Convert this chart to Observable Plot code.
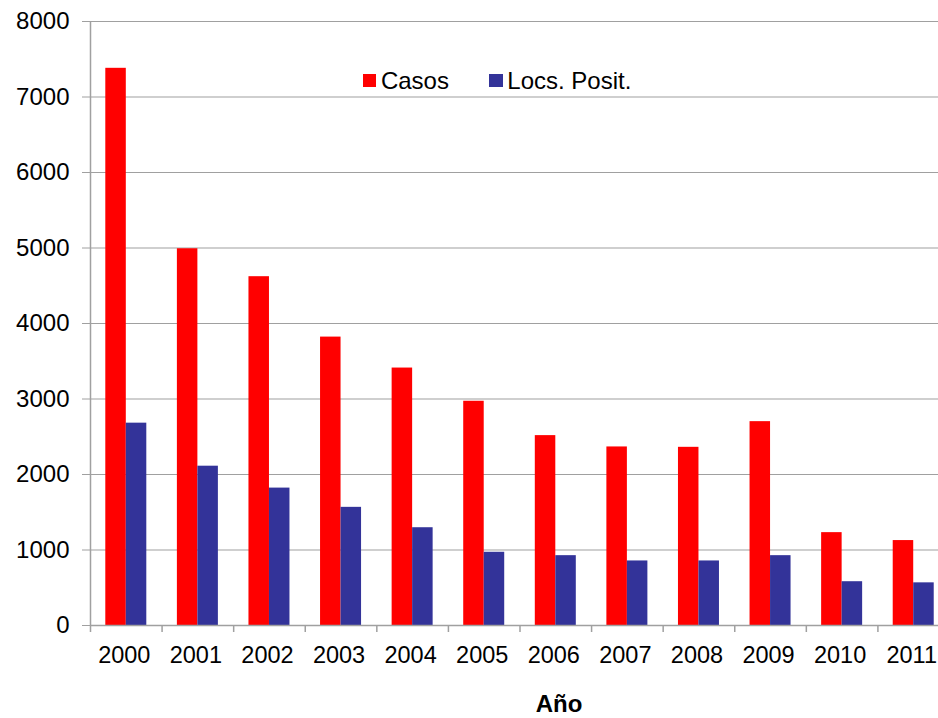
<!DOCTYPE html>
<html>
<head>
<meta charset="utf-8">
<script src="https://cdn.jsdelivr.net/npm/d3@7"></script>
<script src="https://cdn.jsdelivr.net/npm/@observablehq/plot@0.6"></script>
<style>
  html, body { margin: 0; padding: 0; background: white; }
  #wrap { position: relative; width: 938px; height: 718px; overflow: hidden; font-family: 'Liberation Sans', Arial, sans-serif; }
  #legend { position: absolute; left: 363px; top: 68.8px; display: flex; align-items: center; font-size: 24px; line-height: 24px; color: #000; }
  #legend .item { display: flex; align-items: center; }
  #legend .sw { width: 13.4px; height: 13.4px; margin-right: 4.5px; }
</style>
</head>
<body>
<div id="wrap"><div id="legend"></div></div>
<script>
const years = ["2000","2001","2002","2003","2004","2005","2006","2007","2008","2009","2010","2011"];
const casos = [7380, 4990, 4620, 3820, 3410, 2970, 2515, 2365, 2360, 2700, 1230, 1125];
const locs  = [2680, 2110, 1820, 1565, 1295, 970, 925, 855, 855, 925, 580, 565];
const seriesNames = ["Casos", "Locs. Posit."];
const seriesColors = ["#ff0000", "#333399"];
const yTicks = [0, 1000, 2000, 3000, 4000, 5000, 6000, 7000, 8000];
const xLabel = "Año";

const rowsCasos = years.map((y, i) => ({year: y, series: seriesNames[0], value: casos[i]}));
const rowsLocs = years.map((y, i) => ({year: y, series: seriesNames[1], value: locs[i]}));

const W = 938, H = 718, mTop = 21, mBottom = 93, mLeft = 90;
const xRange = [90, 949];
const step = (xRange[1] - xRange[0]) / years.length;
const gap = 15.3, barW = 20.5;
const grid = "#a0a0a0";

const chart = Plot.plot({
  width: W,
  height: H,
  marginTop: mTop,
  marginBottom: mBottom,
  marginLeft: mLeft,
  marginRight: 0,
  style: "font-family: 'Liberation Sans', Arial, sans-serif; font-size: 24px; color: #000; background: white; overflow: hidden;",
  x: {type: "band", domain: years, range: xRange, padding: 0, round: false, label: null},
  y: {domain: [0, 8000], label: null},
  marks: [
    Plot.ruleY(yTicks, {y: d => d, stroke: grid, strokeWidth: 1.2}),
    Plot.barY(rowsCasos, {x: "year", y: "value", fill: seriesColors[0], insetLeft: gap, insetRight: step - gap - barW}),
    Plot.barY(rowsLocs, {x: "year", y: "value", fill: seriesColors[1], insetLeft: gap + barW, insetRight: step - gap - 2 * barW}),
    Plot.ruleX(years.slice(0, 1), {x: d => d, dx: -step / 2, stroke: grid, strokeWidth: 1.5, insetBottom: -7}),
    Plot.ruleX(years.slice(1), {x: d => d, dx: -step / 2, stroke: grid, strokeWidth: 1.5, insetTop: H - mTop - mBottom, insetBottom: -7}),
    Plot.ruleY([0], {stroke: grid, strokeWidth: 1.5}),
    Plot.axisY({ticks: yTicks, tickSize: 8, tickPadding: 13, tickFormat: d => String(d), stroke: grid, fill: "#000", fontSize: 24, label: null}),
    Plot.axisX({tickSize: 0, tickPadding: 21, dx: -2, fill: "#000", fontSize: 23.5, label: null}),
    Plot.text([xLabel], {text: d => d, frameAnchor: "bottom", dx: 558.5 - (mLeft + W) / 2, dy: 86, fontWeight: "bold", fontSize: 24, fill: "#000"})
  ]
});
document.getElementById("wrap").prepend(chart);

const legend = document.getElementById("legend");
seriesNames.forEach((name, i) => {
  const item = document.createElement("div");
  item.className = "item";
  if (i > 0) item.style.marginLeft = "40.5px";
  const sw = document.createElement("div");
  sw.className = "sw";
  sw.style.background = seriesColors[i];
  const t = document.createElement("span");
  t.textContent = name;
  item.appendChild(sw);
  item.appendChild(t);
  legend.appendChild(item);
});
</script>
</body>
</html>
